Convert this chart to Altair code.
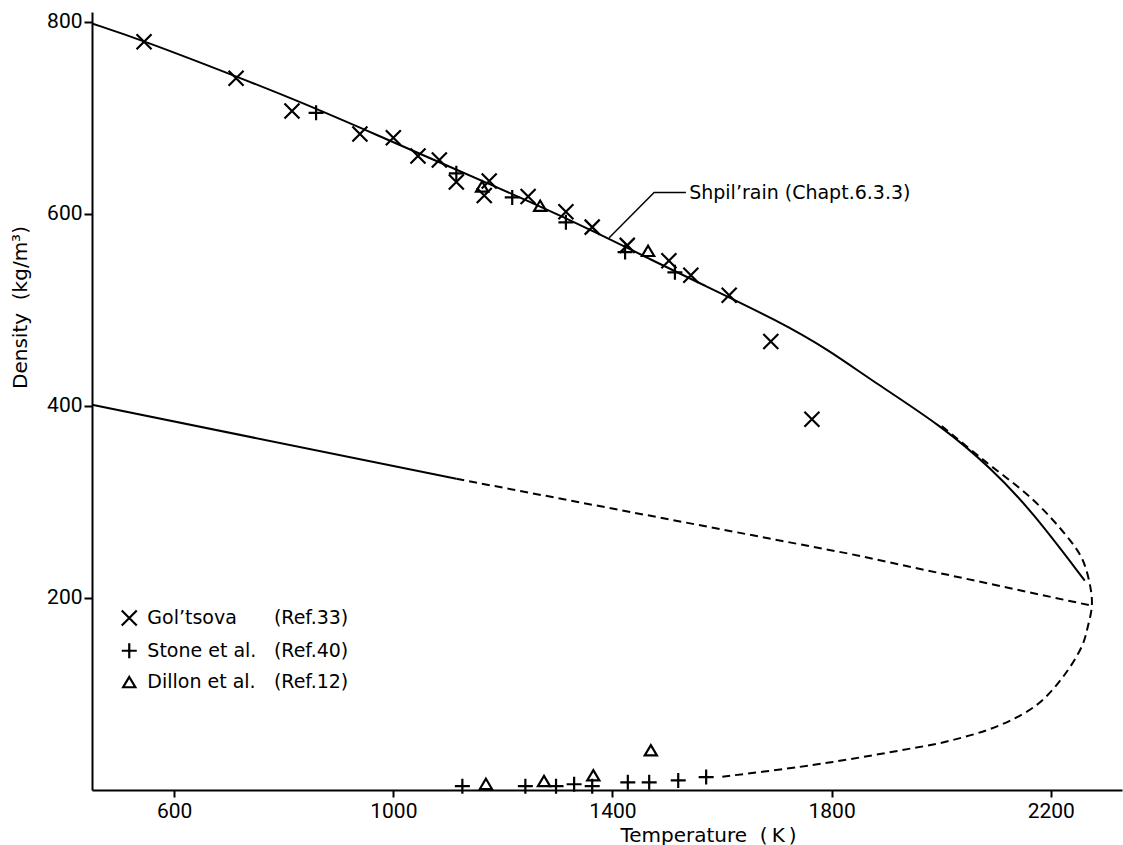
import altair as alt
import pandas as pd

FONT = "DejaVu Sans"
TICKFONT = "Roboto"

# Shpil'rain saturated-liquid density curve (solid)
shp_T = [450, 545, 713, 828, 974, 1102, 1248, 1376, 1467, 1558, 1704, 1795, 1874, 2001, 2093, 2166, 2262]
shp_rho = [798, 780, 743, 717, 681, 649, 613, 579, 553, 528, 488, 458, 426, 379, 334, 290, 218]

# rectilinear diameter (solid part, dashed part)
diam_solid_T = [450, 1115]
diam_solid_rho = [401, 324]
diam_dash_T = [1115, 1832, 2274]
diam_dash_rho = [324, 246, 192]

# dashed coexistence curve (liquid branch -> critical point -> vapour branch)
coex_T = [2001, 2074, 2166, 2228, 2257, 2272, 2275, 2268, 2257, 2220, 2173, 2105, 2014, 1923, 1832, 1741, 1595]
coex_rho = [379, 345, 303, 265, 241, 212, 192, 171, 150, 116, 88, 67, 51, 41, 32, 24, 13.5]

# leader line of the annotation
leader_T = [1534, 1476, 1394]
leader_rho = [622, 622, 575]

# measured points
gol_T = [545, 713, 815, 939, 1000, 1045, 1084, 1115, 1166, 1175, 1246, 1315, 1363, 1427, 1503, 1543, 1613, 1689, 1764]
gol_rho = [779, 741, 707, 683, 679, 660, 656, 633, 619, 634, 618, 602, 586, 567, 551, 536, 515, 467, 386]
stone_T = [859, 1115, 1217, 1315, 1423, 1514, 1126, 1241, 1297, 1330, 1363, 1428, 1467, 1520, 1571]
stone_rho = [705, 642, 617, 591, 560, 539, 4, 4, 4, 6, 4, 8, 8, 10, 13.5]
dillon_T = [1162, 1268, 1465, 1169, 1275, 1365, 1470]
dillon_rho = [628, 608, 561, 6, 9, 15, 41]

# legend
legend_names = ["Gol\u2019tsova", "Stone et al.", "Dillon et al."]
legend_refs = ["(Ref.33)", "(Ref.40)", "(Ref.12)"]
legend_rho = [179, 145, 112]
legend_sym_T = 518
legend_name_T = 551
legend_ref_T = 782

annot_text = "Shpil\u2019rain (Chapt.6.3.3)"
annot_T = 1540
annot_rho = 622

X_TICKS = [600, 1000, 1400, 1800, 2200]
Y_TICKS = [200, 400, 600, 800]

xs = alt.Scale(domain=[450, 2330], nice=False, zero=False)
ys = alt.Scale(domain=[0, 810], nice=False, zero=False)

xaxis = alt.Axis(values=X_TICKS, format="d", grid=False,
                 title="Temperature\u00a0\u00a0(\u2009K\u2009)",
                 domainColor="black", domainWidth=2, tickColor="black", tickWidth=2,
                 tickSize=7, labelFont=TICKFONT, labelFontSize=21, labelColor="black",
                 labelPadding=3, titleFont=FONT, titleFontSize=20, titleFontWeight="normal",
                 titleColor="black", titleX=616, titleY=51, titleAlign="center",
                 titleBaseline="alphabetic")
yaxis = alt.Axis(values=Y_TICKS, format="d", grid=False,
                 title="Density\u00a0\u00a0(kg/m\u00b3)",
                 domainColor="black", domainWidth=2, tickColor="black", tickWidth=2,
                 tickSize=8, labelFont=TICKFONT, labelFontSize=21, labelColor="black",
                 labelPadding=2, titleFont=FONT, titleFontSize=20, titleFontWeight="normal",
                 titleColor="black", titleX=-72, titleY=295, titleAlign="center",
                 titleBaseline="middle", titleAngle=270)

X = alt.X("T:Q", scale=xs, axis=xaxis)
Y = alt.Y("rho:Q", scale=ys, axis=yaxis)


def seg(T, rho):
    return pd.DataFrame({"T": T, "rho": rho, "i": list(range(len(T)))})


def line(T, rho, dash=None, width=2.0, interp="linear"):
    kw = dict(color="black", strokeWidth=width, interpolate=interp)
    if dash:
        kw["strokeDash"] = dash
    return alt.Chart(seg(T, rho)).mark_line(**kw).encode(x=X, y=Y, order="i:Q")


layers = [
    line(shp_T, shp_rho, interp="basis"),
    line(diam_solid_T, diam_solid_rho),
    line(diam_dash_T, diam_dash_rho, dash=[8, 5]),
    line(coex_T, coex_rho, dash=[8, 5], interp="catmull-rom"),
    line(leader_T, leader_rho, width=1.5),
]

X_PATH = "M-1,-1L1,1M-1,1L1,-1"
PLUS_PATH = "M-1,0L1,0M0,-1L0,1"
TRI_PATH = "M0,-0.85L0.95,0.75L-0.95,0.75Z"

for T, rho, path, size, lr in [
    (gol_T, gol_rho, X_PATH, 225, legend_rho[0]),
    (stone_T, stone_rho, PLUS_PATH, 225, legend_rho[1]),
    (dillon_T, dillon_rho, TRI_PATH, 165, legend_rho[2]),
]:
    df = pd.DataFrame({"T": T + [legend_sym_T], "rho": rho + [lr]})
    layers.append(
        alt.Chart(df).mark_point(shape=path, size=size, filled=False, stroke="black",
                                 strokeWidth=2.2, opacity=1).encode(x=X, y=Y)
    )

leg_df = pd.DataFrame({"name": legend_names, "ref": legend_refs, "rho": legend_rho,
                       "Tn": [legend_name_T] * 3, "Tr": [legend_ref_T] * 3})
layers.append(alt.Chart(leg_df).mark_text(align="left", baseline="middle", font=FONT,
                                          fontSize=19, color="black").encode(
    x=alt.X("Tn:Q", scale=xs, axis=xaxis), y=Y, text="name:N"))
layers.append(alt.Chart(leg_df).mark_text(align="left", baseline="middle", font=FONT,
                                          fontSize=19, color="black").encode(
    x=alt.X("Tr:Q", scale=xs, axis=xaxis), y=Y, text="ref:N"))

ann_df = pd.DataFrame({"T": [annot_T], "rho": [annot_rho], "label": [annot_text]})
layers.append(alt.Chart(ann_df).mark_text(align="left", baseline="middle", font=FONT,
                                          fontSize=19, color="black").encode(
    x=X, y=Y, text="label:N"))

chart = alt.layer(*layers).properties(
    width=1030, height=778,
    autosize=alt.AutoSizeParams(type="none"),
    padding={"left": 92, "top": 12, "right": 1, "bottom": 55},
    background="white",
).configure_view(stroke=None)

chart.save("out.html", embed_options={"renderer": "svg", "actions": False})
